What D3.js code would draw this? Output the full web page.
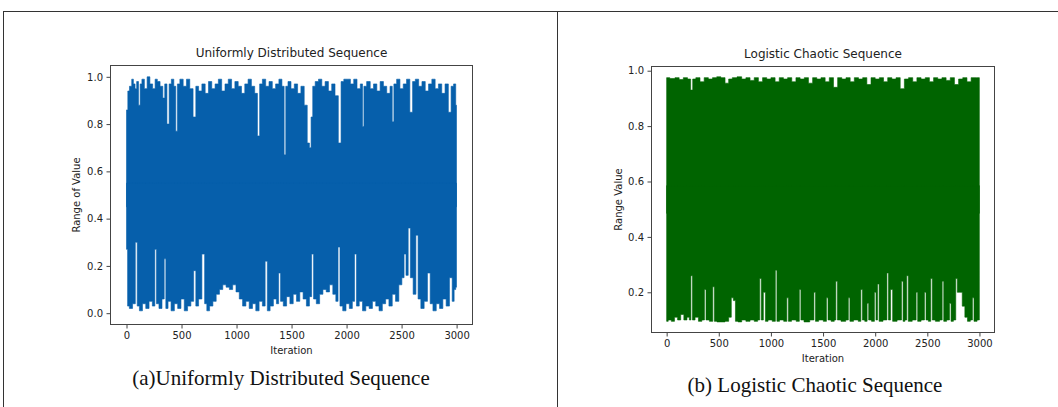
<!DOCTYPE html>
<html>
<head>
<meta charset="utf-8">
<script src="https://cdn.jsdelivr.net/npm/d3@7"></script>
<style>
  html, body { margin: 0; padding: 0; background: #fff; }
  svg { display: block; }
</style>
</head>
<body>
<svg id="chart" width="1058" height="407"></svg>
<script>
// ---------- DATA (envelope of each dense sequence) ----------
const xTicks = [0, 500, 1000, 1500, 2000, 2500, 3000];
const uniformYTicks = [0.0, 0.2, 0.4, 0.6, 0.8, 1.0];
const logisticYTicks = [0.2, 0.4, 0.6, 0.8, 1.0];
const iterations = 3000;

// Uniformly distributed sequence: upper envelope [iteration, value]
const uniformTop = [
  [0,0.86],[10,0.86],[14,0.94],[40,0.96],[55,0.99],[70,0.97],[85,0.95],[100,0.98],[118,0.88],[130,0.97],
  [150,0.99],[175,0.95],[200,1.0],[225,0.97],[250,0.95],[270,0.99],[290,0.98],[320,0.96],[340,0.91],[355,0.97],
  [380,0.80],[395,0.97],[420,0.99],[440,0.96],[455,0.77],[470,0.97],[500,0.99],[530,0.96],[560,0.99],[590,0.95],
  [620,0.83],[640,0.96],[670,0.94],[700,0.97],[730,0.93],[760,0.98],[790,0.95],[820,0.97],[850,0.99],[880,0.94],
  [910,0.97],[940,0.99],[970,0.95],[1000,0.98],[1030,0.96],[1060,0.93],[1090,0.97],[1120,0.99],[1150,0.96],[1180,0.93],
  [1200,0.75],[1220,0.97],[1250,0.99],[1280,0.96],[1310,0.98],[1340,0.95],[1370,0.97],[1400,0.99],[1425,0.96],[1440,0.67],
  [1455,0.96],[1480,0.98],[1510,0.95],[1540,0.97],[1570,0.93],[1600,0.96],[1630,0.88],[1655,0.72],[1670,0.70],[1685,0.83],
  [1700,0.96],[1730,0.98],[1760,0.99],[1790,0.96],[1820,0.98],[1850,0.94],[1880,0.97],[1910,0.92],[1940,0.72],[1960,0.98],
  [1990,0.99],[2020,0.99],[2050,0.97],[2080,0.99],[2110,0.95],[2140,0.97],[2150,0.79],[2165,0.96],[2200,0.98],[2230,0.95],
  [2260,0.97],[2290,0.94],[2320,0.98],[2350,0.96],[2380,0.93],[2410,0.96],[2420,0.81],[2440,0.97],[2470,0.99],[2500,0.95],
  [2530,0.97],[2560,0.99],[2590,0.85],[2610,0.98],[2640,0.99],[2670,0.96],[2700,0.98],[2730,0.94],[2760,0.97],[2790,0.99],
  [2820,0.95],[2850,0.97],[2880,0.93],[2910,0.97],[2940,0.85],[2960,0.96],[2985,0.97],[2999,0.88]
];
// Uniformly distributed sequence: lower envelope [iteration, value]
const uniformBottom = [
  [0,0.27],[8,0.27],[12,0.03],[40,0.02],[70,0.04],[90,0.30],[105,0.03],[130,0.01],[160,0.04],[190,0.02],
  [220,0.05],[250,0.03],[265,0.27],[280,0.04],[310,0.02],[335,0.06],[350,0.23],[365,0.02],[390,0.05],[420,0.01],
  [450,0.04],[480,0.02],[510,0.06],[540,0.01],[570,0.03],[600,0.05],[620,0.18],[640,0.03],[670,0.06],[700,0.25],
  [720,0.04],[740,0.01],[770,0.03],[800,0.05],[830,0.08],[860,0.10],[890,0.12],[920,0.11],[950,0.10],[980,0.12],
  [1010,0.09],[1040,0.06],[1070,0.03],[1100,0.05],[1130,0.02],[1160,0.04],[1190,0.01],[1220,0.05],[1250,0.03],[1270,0.22],
  [1290,0.01],[1320,0.03],[1350,0.06],[1375,0.04],[1390,0.17],[1410,0.05],[1440,0.03],[1470,0.07],[1500,0.04],[1530,0.08],
  [1560,0.05],[1590,0.09],[1620,0.06],[1650,0.03],[1675,0.07],[1690,0.25],[1710,0.06],[1740,0.04],[1770,0.08],[1800,0.10],
  [1830,0.09],[1860,0.12],[1890,0.08],[1915,0.05],[1930,0.28],[1950,0.03],[1980,0.01],[2010,0.04],[2040,0.02],[2065,0.05],
  [2080,0.25],[2100,0.03],[2130,0.05],[2160,0.01],[2190,0.03],[2220,0.02],[2250,0.05],[2280,0.03],[2310,0.01],[2340,0.04],
  [2370,0.06],[2400,0.03],[2430,0.08],[2460,0.05],[2490,0.12],[2515,0.15],[2530,0.25],[2550,0.16],[2570,0.36],[2590,0.15],
  [2620,0.08],[2640,0.33],[2660,0.06],[2690,0.02],[2720,0.05],[2750,0.17],[2770,0.04],[2800,0.01],[2830,0.04],[2860,0.02],
  [2890,0.06],[2920,0.03],[2950,0.15],[2970,0.05],[2985,0.10],[2999,0.11]
];
// Logistic chaotic sequence: upper envelope [iteration, value]
const logisticTop = [
  [0,0.975],[60,0.972],[100,0.975],[140,0.968],[180,0.975],[220,0.97],[240,0.93],[260,0.97],[300,0.975],[340,0.96],
  [380,0.975],[420,0.97],[460,0.975],[500,0.978],[540,0.975],[580,0.955],[610,0.97],[650,0.975],[700,0.978],[740,0.97],
  [780,0.975],[820,0.965],[860,0.975],[900,0.96],[940,0.975],[980,0.97],[1020,0.975],[1060,0.96],[1100,0.975],[1140,0.97],
  [1180,0.975],[1220,0.96],[1260,0.975],[1300,0.97],[1340,0.975],[1380,0.955],[1420,0.975],[1460,0.97],[1500,0.975],[1540,0.96],
  [1580,0.975],[1620,0.94],[1660,0.975],[1700,0.97],[1740,0.975],[1780,0.96],[1820,0.975],[1860,0.97],[1900,0.975],[1940,0.95],
  [1980,0.975],[2020,0.97],[2060,0.975],[2100,0.96],[2140,0.975],[2180,0.97],[2220,0.975],[2260,0.935],[2300,0.97],[2340,0.975],
  [2380,0.96],[2420,0.975],[2460,0.97],[2500,0.975],[2540,0.96],[2580,0.975],[2620,0.97],[2660,0.975],[2700,0.965],[2740,0.975],
  [2780,0.95],[2820,0.97],[2860,0.975],[2900,0.96],[2940,0.975],[2999,0.975]
];
// Logistic chaotic sequence: lower envelope [iteration, value]
const logisticBottom = [
  [0,0.095],[30,0.10],[60,0.095],[90,0.11],[120,0.10],[150,0.12],[180,0.10],[210,0.11],[225,0.10],[240,0.26],
  [255,0.10],[290,0.11],[320,0.095],[355,0.10],[370,0.21],[385,0.10],[435,0.095],[450,0.22],[465,0.095],[500,0.093],
  [540,0.093],[580,0.095],[610,0.11],[630,0.18],[650,0.17],[670,0.095],[700,0.093],[740,0.10],[780,0.095],[820,0.10],
  [860,0.095],[885,0.10],[900,0.25],[915,0.10],[940,0.20],[955,0.095],[990,0.10],[1035,0.095],[1050,0.28],[1065,0.095],
  [1100,0.10],[1145,0.095],[1160,0.18],[1175,0.095],[1220,0.10],[1265,0.095],[1280,0.21],[1295,0.10],[1340,0.093],[1405,0.10],
  [1420,0.20],[1435,0.095],[1480,0.10],[1525,0.095],[1540,0.18],[1555,0.10],[1600,0.095],[1615,0.10],[1630,0.24],[1645,0.10],
  [1700,0.095],[1735,0.10],[1750,0.18],[1765,0.095],[1820,0.10],[1855,0.095],[1870,0.21],[1885,0.10],[1915,0.095],[1930,0.16],
  [1945,0.10],[1985,0.095],[2000,0.20],[2015,0.10],[2030,0.23],[2045,0.095],[2105,0.10],[2120,0.27],[2135,0.10],[2160,0.21],
  [2175,0.095],[2245,0.10],[2260,0.24],[2275,0.095],[2295,0.10],[2310,0.26],[2325,0.095],[2385,0.10],[2400,0.20],[2415,0.095],
  [2465,0.10],[2480,0.20],[2495,0.10],[2525,0.095],[2540,0.25],[2555,0.10],[2600,0.095],[2635,0.10],[2650,0.24],[2665,0.095],
  [2705,0.10],[2720,0.16],[2735,0.095],[2765,0.10],[2780,0.25],[2795,0.20],[2820,0.20],[2850,0.15],[2870,0.11],[2900,0.095],
  [2925,0.10],[2940,0.18],[2955,0.095],[2999,0.10]
];

// ---------- DRAWING ----------
const svg = d3.select("#chart");
const FONT = "'DejaVu Sans', sans-serif";

// outer frame (table lines)
const frame = svg.append("g").attr("stroke", "#333").attr("stroke-width", 1).attr("fill", "none");
frame.append("line").attr("x1", 3).attr("x2", 1058).attr("y1", 11.5).attr("y2", 11.5);
frame.append("line").attr("x1", 3.5).attr("x2", 3.5).attr("y1", 11).attr("y2", 407);
frame.append("line").attr("x1", 557.5).attr("x2", 557.5).attr("y1", 11).attr("y2", 407);

function panel(cfg) {
  const g = svg.append("g");
  const x = d3.scaleLinear().domain([-150, 3149]).range([cfg.left, cfg.right]);
  const y = d3.scaleLinear().domain(cfg.yDomain).range([cfg.bottom, cfg.top]);
  const mid = (cfg.yDomain[0] + cfg.yDomain[1]) / 2;

  const topArea = d3.area().curve(d3.curveStep).x(d => x(d[0])).y0(y(mid - 0.05)).y1(d => y(d[1]));
  const botArea = d3.area().curve(d3.curveStep).x(d => x(d[0])).y0(d => y(d[1])).y1(y(mid + 0.05));
  g.append("path").datum(cfg.topData).attr("d", topArea).attr("fill", cfg.color)
    .attr("stroke", cfg.color).attr("stroke-width", 0.6);
  g.append("path").datum(cfg.botData).attr("d", botArea).attr("fill", cfg.color)
    .attr("stroke", cfg.color).attr("stroke-width", 0.6);

  // spines
  g.append("rect").attr("x", cfg.left + 0.5).attr("y", cfg.top + 0.5)
    .attr("width", cfg.right - cfg.left - 1).attr("height", cfg.bottom - cfg.top - 1)
    .attr("fill", "none").attr("stroke", "#444").attr("stroke-width", 1);

  const xAxis = g.append("g").attr("transform", `translate(0,${cfg.bottom})`)
    .call(d3.axisBottom(x).tickValues(xTicks).tickFormat(d3.format("d")).tickSize(3.5).tickPadding(3.5));
  const yAxis = g.append("g").attr("transform", `translate(${cfg.left},0)`)
    .call(d3.axisLeft(y).tickValues(cfg.yTicks).tickFormat(d3.format(".1f")).tickSize(3.5).tickPadding(3.5));
  [xAxis, yAxis].forEach(a => {
    a.select(".domain").remove();
    a.selectAll("line").attr("stroke", "#444");
    a.selectAll("text").attr("font-family", FONT).attr("font-size", 10).attr("fill", "#222");
  });

  const cx = (cfg.left + cfg.right) / 2;
  g.append("text").attr("x", cx).attr("y", cfg.top - 8).attr("text-anchor", "middle")
    .attr("font-family", FONT).attr("font-size", 12).attr("fill", "#222").text(cfg.title);
  g.append("text").attr("x", cx).attr("y", cfg.xLabelY).attr("text-anchor", "middle")
    .attr("font-family", FONT).attr("font-size", 10).attr("fill", "#222").text("Iteration");
  g.append("text").attr("transform", `translate(${cfg.yLabelX},${(cfg.top + cfg.bottom) / 2}) rotate(-90)`)
    .attr("text-anchor", "middle").attr("font-family", FONT).attr("font-size", 10).attr("fill", "#222")
    .text(cfg.yLabel);
  g.append("text").attr("x", cfg.captionX).attr("y", cfg.captionY).attr("text-anchor", "middle")
    .attr("font-family", "'Liberation Serif', 'Times New Roman', serif").attr("font-size", 21)
    .attr("fill", "#111").text(cfg.caption);
}

panel({
  left: 110, right: 473, top: 65, bottom: 325,
  yDomain: [-0.05, 1.05], yTicks: uniformYTicks,
  topData: uniformTop, botData: uniformBottom, color: "#065fab",
  title: "Uniformly Distributed Sequence", yLabel: "Range of Value",
  xLabelY: 354, yLabelX: 80, caption: "(a)Uniformly Distributed Sequence",
  captionX: 281, captionY: 385
});

panel({
  left: 651, right: 995, top: 66, bottom: 333,
  yDomain: [0.053, 1.017], yTicks: logisticYTicks,
  topData: logisticTop, botData: logisticBottom, color: "#006400",
  title: "Logistic Chaotic Sequence", yLabel: "Range Value",
  xLabelY: 362, yLabelX: 622, caption: "(b) Logistic Chaotic Sequence",
  captionX: 815, captionY: 392
});
</script>
</body>
</html>
